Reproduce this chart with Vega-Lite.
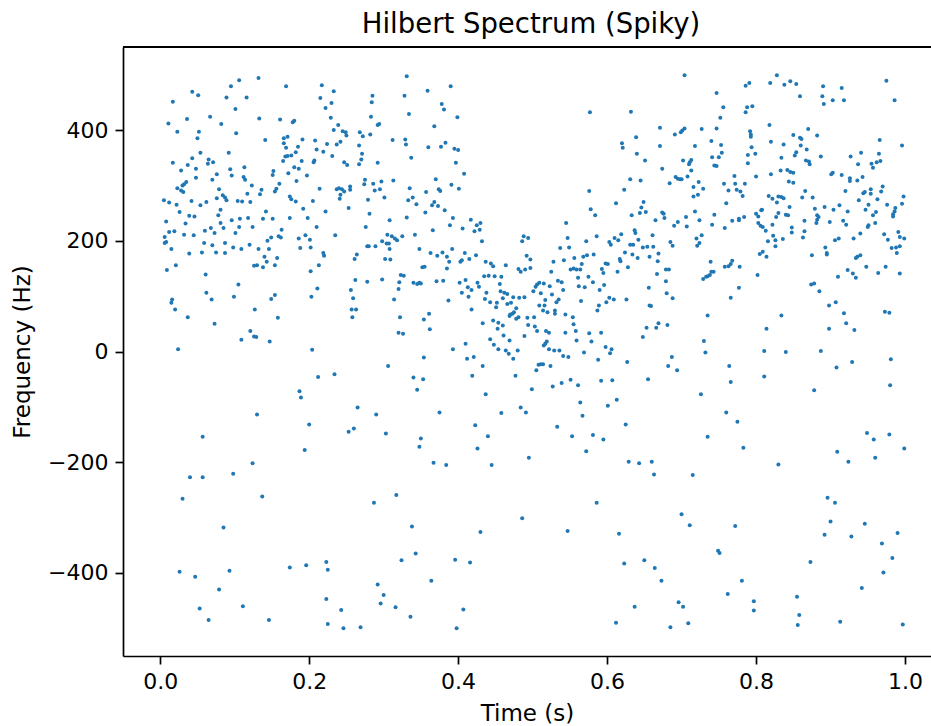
{
"$schema":"https://vega.github.io/schema/vega-lite/v6.json",
"width":808,"height":609,
"autosize":{"type":"none"},
"padding":{"left":123,"top":47,"right":0,"bottom":70},
"title":{"text":"Hilbert Spectrum (Spiky)","fontSize":27.5,"font":"DejaVu Sans","fontWeight":"normal","color":"black","anchor":"middle","offset":8,"dx":4},
"config":{"view":{"stroke":"transparent","strokeWidth":0},"font":"DejaVu Sans",
"axis":{"grid":false,"domainColor":"black","domainWidth":1.7,"tickColor":"black","tickWidth":1.7,"tickSize":8,"labelFont":"DejaVu Sans","labelFontSize":22,"labelColor":"black","titleFont":"DejaVu Sans","titleFontSize":23,"titleFontWeight":"normal","titleColor":"black","labelPadding":7}},
"data":{"values":[
{"t":0.132,"f":494},{"t":0.106,"f":490},{"t":0.095,"f":479},{"t":0.169,"f":479},{"t":0.217,"f":481},{"t":0.043,"f":469},{"t":0.051,"f":463},{"t":0.089,"f":459},{"t":0.116,"f":459},{"t":0.215,"f":458},{"t":0.017,"f":451},{"t":0.101,"f":438},{"t":0.222,"f":440},{"t":0.067,"f":424},{"t":0.036,"f":420},{"t":0.133,"f":421},{"t":0.161,"f":419},{"t":0.178,"f":414},{"t":0.180,"f":417},{"t":0.011,"f":412},{"t":0.082,"f":411},{"t":0.023,"f":397},{"t":0.052,"f":397},{"t":0.102,"f":394},{"t":0.050,"f":385},{"t":0.141,"f":382},{"t":0.171,"f":388},{"t":0.166,"f":385},{"t":0.191,"f":383},{"t":0.208,"f":381},{"t":0.166,"f":376},{"t":0.224,"f":375},{"t":0.169,"f":368},{"t":0.185,"f":370},{"t":0.219,"f":361},{"t":0.210,"f":365},{"t":0.092,"f":359},{"t":0.054,"f":359},{"t":0.176,"f":354},{"t":0.171,"f":353},{"t":0.168,"f":352},{"t":0.182,"f":360},{"t":0.043,"f":349},{"t":0.065,"f":347},{"t":0.017,"f":341},{"t":0.037,"f":337},{"t":0.071,"f":342},{"t":0.064,"f":339},{"t":0.165,"f":344},{"t":0.190,"f":344},{"t":0.207,"f":345},{"t":0.206,"f":342},{"t":0.048,"f":330},{"t":0.028,"f":327},{"t":0.094,"f":329},{"t":0.113,"f":333},{"t":0.180,"f":333},{"t":0.186,"f":330},{"t":0.152,"f":326},{"t":0.076,"f":320},{"t":0.151,"f":319},{"t":0.172,"f":322},{"t":0.197,"f":318},{"t":0.096,"f":318},{"t":0.048,"f":314},{"t":0.112,"f":315},{"t":0.114,"f":310},{"t":0.035,"f":306},{"t":0.032,"f":302},{"t":0.030,"f":300},{"t":0.070,"f":310},{"t":0.183,"f":308},{"t":0.123,"f":300},{"t":0.160,"f":303},{"t":0.023,"f":295},{"t":0.028,"f":291},{"t":0.031,"f":288},{"t":0.079,"f":293},{"t":0.136,"f":292},{"t":0.156,"f":294},{"t":0.154,"f":289},{"t":0.214,"f":294},{"t":0.117,"f":285},{"t":0.134,"f":284},{"t":0.084,"f":282},{"t":0.087,"f":278},{"t":0.174,"f":280},{"t":0.005,"f":273},{"t":0.012,"f":269},{"t":0.042,"f":272},{"t":0.076,"f":277},{"t":0.089,"f":273},{"t":0.104,"f":272},{"t":0.110,"f":271},{"t":0.121,"f":270},{"t":0.176,"f":275},{"t":0.182,"f":271},{"t":0.205,"f":272},{"t":0.022,"f":265},{"t":0.062,"f":270},{"t":0.054,"f":264},{"t":0.081,"f":256},{"t":0.142,"f":253},{"t":0.192,"f":258},{"t":0.222,"f":253},{"t":0.026,"f":252},{"t":0.039,"f":245},{"t":0.046,"f":244},{"t":0.078,"f":246},{"t":0.096,"f":237},{"t":0.107,"f":240},{"t":0.118,"f":241},{"t":0.138,"f":240},{"t":0.151,"f":240},{"t":0.174,"f":241},{"t":0.198,"f":241},{"t":0.008,"f":235},{"t":0.034,"f":231},{"t":0.081,"f":232},{"t":0.106,"f":225},{"t":0.124,"f":225},{"t":0.163,"f":220},{"t":0.210,"f":225},{"t":0.085,"f":223},{"t":0.012,"f":216},{"t":0.019,"f":217},{"t":0.060,"f":218},{"t":0.068,"f":223},{"t":0.073,"f":214},{"t":0.032,"f":211},{"t":0.045,"f":210},{"t":0.101,"f":214},{"t":0.006,"f":207},{"t":0.149,"f":206},{"t":0.159,"f":208},{"t":0.162,"f":206},{"t":0.195,"f":210},{"t":0.008,"f":198},{"t":0.006,"f":196},{"t":0.144,"f":200},{"t":0.186,"f":204},{"t":0.201,"f":202},{"t":0.059,"f":196},{"t":0.070,"f":192},{"t":0.087,"f":196},{"t":0.120,"f":193},{"t":0.098,"f":188},{"t":0.109,"f":185},{"t":0.132,"f":185},{"t":0.146,"f":185},{"t":0.188,"f":187},{"t":0.202,"f":188},{"t":0.015,"f":185},
{"t":0.039,"f":177},{"t":0.056,"f":179},{"t":0.075,"f":179},{"t":0.087,"f":178},{"t":0.219,"f":178},{"t":0.220,"f":173},{"t":0.021,"f":156},{"t":0.009,"f":147},{"t":0.061,"f":139},{"t":0.140,"f":171},{"t":0.157,"f":169},{"t":0.143,"f":162},{"t":0.126,"f":155},{"t":0.130,"f":156},{"t":0.138,"f":152},{"t":0.154,"f":156},{"t":0.213,"f":156},{"t":0.202,"f":145},{"t":0.105,"f":121},{"t":0.211,"f":114},{"t":0.062,"f":106},{"t":0.069,"f":94},{"t":0.099,"f":99},{"t":0.149,"f":95},{"t":0.154,"f":102},{"t":0.203,"f":99},{"t":0.016,"f":94},{"t":0.015,"f":88},{"t":0.020,"f":76},{"t":0.127,"f":76},{"t":0.037,"f":62},{"t":0.158,"f":61},{"t":0.073,"f":50},{"t":0.121,"f":37},{"t":0.109,"f":21},{"t":0.126,"f":27},{"t":0.129,"f":26},{"t":0.147,"f":18},{"t":0.024,"f":4},{"t":0.204,"f":3},{"t":0.212,"f":-46},{"t":0.187,"f":-72},{"t":0.189,"f":-83},{"t":0.130,"f":-114},{"t":0.200,"f":-132},{"t":0.057,"f":-154},{"t":0.194,"f":-178},
{"t":0.124,"f":-202},{"t":0.040,"f":-227},{"t":0.057,"f":-227},{"t":0.098,"f":-221},{"t":0.030,"f":-266},{"t":0.137,"f":-262},{"t":0.085,"f":-318},{"t":0.026,"f":-398},{"t":0.047,"f":-407},{"t":0.093,"f":-396},{"t":0.174,"f":-390},{"t":0.196,"f":-386},{"t":0.223,"f":-380},{"t":0.225,"f":-394},{"t":0.079,"f":-430},{"t":0.223,"f":-447},{"t":0.053,"f":-464},{"t":0.111,"f":-460},{"t":0.065,"f":-485},{"t":0.146,"f":-485},{"t":0.225,"f":-492},
{"t":0.331,"f":497},{"t":0.233,"f":470},{"t":0.359,"f":471},{"t":0.390,"f":479},{"t":0.285,"f":462},{"t":0.230,"f":449},{"t":0.328,"f":462},{"t":0.284,"f":450},{"t":0.378,"f":447},{"t":0.381,"f":437},{"t":0.334,"f":429},{"t":0.229,"f":422},{"t":0.283,"f":424},{"t":0.399,"f":423},{"t":0.368,"f":407},{"t":0.294,"f":411},{"t":0.292,"f":409},{"t":0.239,"f":409},{"t":0.233,"f":400},{"t":0.245,"f":398},{"t":0.249,"f":396},{"t":0.250,"f":390},{"t":0.268,"f":396},{"t":0.272,"f":389},{"t":0.282,"f":392},{"t":0.312,"f":382},{"t":0.329,"f":383},{"t":0.330,"f":374},{"t":0.242,"f":379},{"t":0.237,"f":374},{"t":0.267,"f":372},{"t":0.360,"f":369},{"t":0.377,"f":370},{"t":0.383,"f":377},{"t":0.395,"f":366},{"t":0.400,"f":364},{"t":0.231,"f":353},{"t":0.271,"f":357},{"t":0.270,"f":347},{"t":0.337,"f":350},{"t":0.247,"f":342},{"t":0.251,"f":337},{"t":0.267,"f":338},{"t":0.292,"f":341},{"t":0.397,"f":341},{"t":0.408,"f":321},{"t":0.275,"f":310},{"t":0.274,"f":302},{"t":0.286,"f":303},{"t":0.297,"f":307},{"t":0.313,"f":309},{"t":0.370,"f":311},{"t":0.237,"f":293},{"t":0.240,"f":295},{"t":0.244,"f":293},{"t":0.247,"f":289},{"t":0.255,"f":298},{"t":0.255,"f":292},{"t":0.242,"f":283},{"t":0.241,"f":276},{"t":0.288,"f":291},{"t":0.295,"f":293},{"t":0.335,"f":295},{"t":0.357,"f":288},{"t":0.374,"f":293},{"t":0.376,"f":290},{"t":0.391,"f":301},{"t":0.401,"f":294},{"t":0.279,"f":274},{"t":0.301,"f":278},{"t":0.333,"f":273},{"t":0.339,"f":278},{"t":0.344,"f":266},{"t":0.365,"f":264},{"t":0.368,"f":270},{"t":0.373,"f":263},{"t":0.253,"f":259},{"t":0.382,"f":255},{"t":0.281,"f":249},{"t":0.356,"f":251},{"t":0.331,"f":242},{"t":0.308,"f":237},{"t":0.393,"f":241},{"t":0.417,"f":238},{"t":0.430,"f":232},{"t":0.425,"f":228},{"t":0.389,"f":228},{"t":0.276,"f":225},{"t":0.406,"f":222},{"t":0.422,"f":217},{"t":0.429,"f":220},{"t":0.366,"f":219},{"t":0.342,"f":211},{"t":0.235,"f":210},{"t":0.325,"f":208},{"t":0.305,"f":211},{"t":0.311,"f":208},{"t":0.315,"f":204},{"t":0.318,"f":201},{"t":0.298,"f":199},{"t":0.304,"f":195},{"t":0.307,"f":195},{"t":0.432,"f":199},{"t":0.486,"f":199},{"t":0.488,"f":208},{"t":0.494,"f":205},{"t":0.278,"f":190},{"t":0.280,"f":190},{"t":0.289,"f":190},{"t":0.348,"f":185},{"t":0.392,"f":185},{"t":0.308,"f":185},
{"t":0.264,"f":175},{"t":0.261,"f":167},{"t":0.302,"f":167},{"t":0.309,"f":166},{"t":0.363,"f":178},{"t":0.372,"f":173},{"t":0.379,"f":179},{"t":0.385,"f":171},{"t":0.388,"f":162},{"t":0.409,"f":178},{"t":0.424,"f":174},{"t":0.403,"f":162},{"t":0.405,"f":165},{"t":0.415,"f":167},{"t":0.437,"f":162},{"t":0.444,"f":159},{"t":0.447,"f":154},{"t":0.464,"f":156},{"t":0.492,"f":173},{"t":0.481,"f":149},{"t":0.484,"f":144},{"t":0.490,"f":148},{"t":0.497,"f":151},{"t":0.355,"f":153},{"t":0.352,"f":152},{"t":0.385,"f":150},{"t":0.262,"f":129},{"t":0.278,"f":126},{"t":0.298,"f":130},{"t":0.323,"f":138},{"t":0.327,"f":137},{"t":0.321,"f":125},{"t":0.340,"f":124},{"t":0.345,"f":122},{"t":0.348,"f":124},{"t":0.350,"f":123},{"t":0.371,"f":127},{"t":0.380,"f":128},{"t":0.402,"f":124},{"t":0.410,"f":129},{"t":0.435,"f":136},{"t":0.441,"f":137},{"t":0.449,"f":136},{"t":0.458,"f":135},{"t":0.426,"f":124},{"t":0.428,"f":117},{"t":0.413,"f":116},{"t":0.418,"f":111},{"t":0.456,"f":122},{"t":0.256,"f":111},{"t":0.320,"f":113},{"t":0.438,"f":106},{"t":0.457,"f":109},{"t":0.462,"f":106},{"t":0.466,"f":104},{"t":0.405,"f":106},{"t":0.414,"f":99},{"t":0.259,"f":96},{"t":0.314,"f":94},{"t":0.387,"f":92},{"t":0.436,"f":95},{"t":0.443,"f":89},{"t":0.452,"f":88},{"t":0.460,"f":96},{"t":0.474,"f":98},{"t":0.482,"f":97},{"t":0.489,"f":98},{"t":0.466,"f":86},{"t":0.471,"f":88},{"t":0.257,"f":76},{"t":0.263,"f":76},{"t":0.258,"f":62},{"t":0.418,"f":76},{"t":0.451,"f":80},{"t":0.478,"f":78},{"t":0.475,"f":71},{"t":0.470,"f":67},{"t":0.473,"f":68},{"t":0.469,"f":64},{"t":0.481,"f":62},{"t":0.478,"f":59},{"t":0.493,"f":61},{"t":0.322,"f":62},{"t":0.354,"f":58},{"t":0.361,"f":68},{"t":0.433,"f":51},{"t":0.447,"f":56},{"t":0.454,"f":52},{"t":0.460,"f":47},{"t":0.453,"f":41},{"t":0.494,"f":48},{"t":0.362,"f":40},{"t":0.320,"f":34},{"t":0.326,"f":32},{"t":0.461,"f":29},{"t":0.489,"f":28},{"t":0.443,"f":22},{"t":0.469,"f":20},{"t":0.448,"f":12},{"t":0.410,"f":14},{"t":0.454,"f":4},{"t":0.464,"f":2},{"t":0.468,"f":-4},{"t":0.480,"f":2},{"t":0.393,"f":4},{"t":0.354,"f":-11},{"t":0.412,"f":-13},{"t":0.421,"f":-10},{"t":0.474,"f":-13},{"t":0.306,"f":-26},{"t":0.433,"f":-26},{"t":0.234,"f":-41},{"t":0.340,"f":-47},{"t":0.353,"f":-50},{"t":0.419,"f":-44},{"t":0.477,"f":-44},{"t":0.345,"f":-69},{"t":0.437,"f":-77},{"t":0.265,"f":-101},{"t":0.290,"f":-114},{"t":0.375,"f":-110},{"t":0.458,"f":-111},{"t":0.484,"f":-101},{"t":0.491,"f":-110},{"t":0.423,"f":-133},{"t":0.253,"f":-145},{"t":0.260,"f":-139},{"t":0.303,"f":-148},{"t":0.440,"f":-153},{"t":0.350,"f":-157},{"t":0.348,"f":-172},{"t":0.426,"f":-175},
{"t":0.367,"f":-201},{"t":0.384,"f":-205},{"t":0.445,"f":-205},{"t":0.495,"f":-192},{"t":0.317,"f":-259},{"t":0.287,"f":-273},{"t":0.338,"f":-316},{"t":0.486,"f":-301},{"t":0.430,"f":-326},{"t":0.343,"f":-365},{"t":0.324,"f":-377},{"t":0.396,"f":-376},{"t":0.416,"f":-381},{"t":0.364,"f":-414},{"t":0.292,"f":-421},{"t":0.300,"f":-440},{"t":0.296,"f":-455},{"t":0.316,"f":-462},{"t":0.243,"f":-467},{"t":0.407,"f":-466},{"t":0.336,"f":-479},{"t":0.246,"f":-500},{"t":0.269,"f":-498},{"t":0.398,"f":-500},
{"t":0.704,"f":499},{"t":0.747,"f":467},{"t":0.577,"f":432},{"t":0.632,"f":433},{"t":0.756,"f":441},{"t":0.752,"f":422},{"t":0.671,"f":404},{"t":0.691,"f":392},{"t":0.699,"f":396},{"t":0.701,"f":399},{"t":0.704,"f":403},{"t":0.727,"f":402},{"t":0.747,"f":403},{"t":0.639,"f":387},{"t":0.620,"f":376},{"t":0.621,"f":368},{"t":0.671,"f":371},{"t":0.718,"f":371},{"t":0.740,"f":380},{"t":0.753,"f":373},{"t":0.754,"f":359},{"t":0.640,"f":357},{"t":0.741,"f":351},{"t":0.750,"f":351},{"t":0.651,"f":345},{"t":0.702,"f":345},{"t":0.713,"f":346},{"t":0.711,"f":342},{"t":0.710,"f":338},{"t":0.744,"f":336},{"t":0.747,"f":335},{"t":0.674,"f":330},{"t":0.713,"f":327},{"t":0.692,"f":315},{"t":0.695,"f":312},{"t":0.698,"f":311},{"t":0.700,"f":311},{"t":0.708,"f":316},{"t":0.684,"f":304},{"t":0.631,"f":311},{"t":0.645,"f":309},{"t":0.723,"f":306},{"t":0.757,"f":303},{"t":0.716,"f":297},{"t":0.729,"f":294},{"t":0.576,"f":290},{"t":0.623,"f":292},{"t":0.763,"f":291},{"t":0.722,"f":283},{"t":0.716,"f":280},{"t":0.612,"f":268},{"t":0.649,"f":270},{"t":0.578,"f":257},{"t":0.646,"f":260},{"t":0.644,"f":250},{"t":0.652,"f":252},{"t":0.584,"f":246},{"t":0.633,"f":246},{"t":0.674,"f":251},{"t":0.676,"f":249},{"t":0.677,"f":241},{"t":0.718,"f":253},{"t":0.706,"f":243},{"t":0.665,"f":237},{"t":0.695,"f":234},{"t":0.724,"f":237},{"t":0.744,"f":247},{"t":0.760,"f":268},{"t":0.768,"f":236},{"t":0.545,"f":232},{"t":0.690,"f":227},{"t":0.707,"f":226},{"t":0.741,"f":229},{"t":0.758,"f":223},{"t":0.637,"f":219},{"t":0.638,"f":214},{"t":0.661,"f":210},{"t":0.619,"f":212},{"t":0.610,"f":205},{"t":0.615,"f":201},{"t":0.603,"f":198},{"t":0.605,"f":193},{"t":0.631,"f":193},{"t":0.635,"f":193},{"t":0.642,"f":202},{"t":0.586,"f":208},{"t":0.572,"f":199},{"t":0.547,"f":205},{"t":0.537,"f":187},{"t":0.549,"f":188},{"t":0.648,"f":188},{"t":0.654,"f":189},{"t":0.662,"f":189},{"t":0.685,"f":198},{"t":0.688,"f":191},{"t":0.720,"f":204},{"t":0.727,"f":210},{"t":0.724,"f":196},{"t":0.721,"f":191},
{"t":0.497,"f":166},{"t":0.528,"f":162},{"t":0.542,"f":165},{"t":0.556,"f":169},{"t":0.568,"f":171},{"t":0.573,"f":174},{"t":0.582,"f":175},{"t":0.566,"f":158},{"t":0.551,"f":148},{"t":0.555,"f":150},{"t":0.559,"f":148},{"t":0.564,"f":148},{"t":0.525,"f":144},{"t":0.593,"f":149},{"t":0.595,"f":142},{"t":0.598,"f":159},{"t":0.601,"f":158},{"t":0.617,"f":167},{"t":0.618,"f":163},{"t":0.624,"f":179},{"t":0.634,"f":175},{"t":0.641,"f":169},{"t":0.657,"f":171},{"t":0.669,"f":177},{"t":0.668,"f":163},{"t":0.628,"f":152},{"t":0.614,"f":144},{"t":0.667,"f":140},{"t":0.679,"f":148},{"t":0.683,"f":148},{"t":0.561,"f":133},{"t":0.575,"f":135},{"t":0.581,"f":125},{"t":0.534,"f":128},{"t":0.539,"f":125},{"t":0.506,"f":121},{"t":0.509,"f":124},{"t":0.515,"f":123},{"t":0.504,"f":117},{"t":0.523,"f":118},{"t":0.562,"f":118},{"t":0.570,"f":116},{"t":0.596,"f":120},{"t":0.501,"f":109},{"t":0.511,"f":105},{"t":0.526,"f":103},{"t":0.541,"f":111},{"t":0.590,"f":111},{"t":0.656,"f":115},{"t":0.679,"f":127},{"t":0.680,"f":105},{"t":0.688,"f":96},{"t":0.517,"f":93},{"t":0.535,"f":94},{"t":0.532,"f":89},{"t":0.565,"f":91},{"t":0.599,"f":89},{"t":0.603,"f":97},{"t":0.609,"f":94},{"t":0.626,"f":94},{"t":0.509,"f":83},{"t":0.516,"f":83},{"t":0.530,"f":74},{"t":0.514,"f":74},{"t":0.520,"f":71},{"t":0.530,"f":68},{"t":0.544,"f":67},{"t":0.589,"f":83},{"t":0.587,"f":74},{"t":0.657,"f":83},{"t":0.659,"f":82},{"t":0.502,"f":62},{"t":0.554,"f":62},{"t":0.555,"f":49},{"t":0.503,"f":45},{"t":0.506,"f":37},{"t":0.518,"f":37},{"t":0.522,"f":34},{"t":0.544,"f":34},{"t":0.558,"f":37},{"t":0.576,"f":33},{"t":0.592,"f":34},{"t":0.653,"f":43},{"t":0.666,"f":43},{"t":0.669,"f":51},{"t":0.681,"f":48},{"t":0.648,"f":26},{"t":0.559,"f":20},{"t":0.579,"f":18},{"t":0.519,"f":18},{"t":0.517,"f":14},{"t":0.515,"f":11},{"t":0.522,"f":4},{"t":0.529,"f":2},{"t":0.536,"f":2},{"t":0.569,"f":-2},{"t":0.541,"f":-8},{"t":0.548,"f":-10},{"t":0.598,"f":8},{"t":0.606,"f":4},{"t":0.604,"f":-3},{"t":0.588,"f":-15},{"t":0.627,"f":-19},{"t":0.687,"f":-10},{"t":0.682,"f":-26},{"t":0.694,"f":-34},{"t":0.508,"f":-24},{"t":0.511,"f":-23},{"t":0.514,"f":-23},{"t":0.505,"f":-34},{"t":0.524,"f":-26},{"t":0.551,"f":-51},{"t":0.539,"f":-57},{"t":0.527,"f":-63},{"t":0.561,"f":-61},{"t":0.592,"f":-53},{"t":0.607,"f":-52},{"t":0.655,"f":-50},{"t":0.499,"f":-68},{"t":0.564,"f":-92},{"t":0.601,"f":-98},{"t":0.613,"f":-87},{"t":0.567,"f":-116},{"t":0.625,"f":-132},{"t":0.533,"f":-136},{"t":0.553,"f":-153},{"t":0.581,"f":-151},{"t":0.595,"f":-159},{"t":0.572,"f":-180},{"t":0.739,"f":162},{"t":0.758,"f":153},{"t":0.763,"f":154},{"t":0.766,"f":158},{"t":0.768,"f":164},{"t":0.729,"f":131},{"t":0.733,"f":135},{"t":0.735,"f":136},{"t":0.738,"f":138},{"t":0.740,"f":144},{"t":0.743,"f":144},{"t":0.735,"f":65},{"t":0.766,"f":97},{"t":0.730,"f":19},{"t":0.732,"f":-2},{"t":0.764,"f":-26},{"t":0.766,"f":-55},{"t":0.726,"f":-77},{"t":0.760,"f":-110},{"t":0.735,"f":-154},
{"t":0.629,"f":-199},{"t":0.643,"f":-202},{"t":0.660,"f":-199},{"t":0.663,"f":-222},{"t":0.715,"f":-223},{"t":0.586,"f":-273},{"t":0.700,"f":-294},{"t":0.711,"f":-314},{"t":0.547,"f":-324},{"t":0.616,"f":-329},{"t":0.749,"f":-360},{"t":0.751,"f":-364},{"t":0.623,"f":-383},{"t":0.650,"f":-377},{"t":0.664,"f":-391},{"t":0.673,"f":-414},{"t":0.762,"f":-438},{"t":0.637,"f":-461},{"t":0.696,"f":-453},{"t":0.702,"f":-461},{"t":0.612,"f":-490},{"t":0.685,"f":-498},{"t":0.709,"f":-491},
{"t":0.828,"f":499},{"t":0.786,"f":480},{"t":0.791,"f":485},{"t":0.819,"f":485},{"t":0.838,"f":482},{"t":0.846,"f":488},{"t":0.854,"f":483},{"t":0.859,"f":461},{"t":0.890,"f":479},{"t":0.915,"f":476},{"t":0.889,"f":461},{"t":0.903,"f":454},{"t":0.918,"f":454},{"t":0.891,"f":447},{"t":0.975,"f":489},{"t":0.986,"f":454},{"t":0.788,"f":441},{"t":0.795,"f":443},{"t":0.786,"f":432},{"t":0.818,"f":409},{"t":0.870,"f":402},{"t":0.882,"f":390},{"t":0.850,"f":391},{"t":0.792,"f":398},{"t":0.793,"f":392},{"t":0.793,"f":388},{"t":0.820,"f":379},{"t":0.837,"f":374},{"t":0.859,"f":386},{"t":0.861,"f":384},{"t":0.860,"f":372},{"t":0.868,"f":365},{"t":0.854,"f":360},{"t":0.852,"f":354},{"t":0.794,"f":369},{"t":0.789,"f":355},{"t":0.799,"f":357},{"t":0.789,"f":340},{"t":0.887,"f":352},{"t":0.834,"f":350},{"t":0.867,"f":345},{"t":0.871,"f":343},{"t":0.872,"f":338},{"t":0.966,"f":382},{"t":0.996,"f":372},{"t":0.927,"f":352},{"t":0.941,"f":359},{"t":0.965,"f":357},{"t":0.937,"f":338},{"t":0.955,"f":339},{"t":0.962,"f":342},{"t":0.967,"f":344},{"t":0.957,"f":332},{"t":0.833,"f":327},{"t":0.842,"f":328},{"t":0.846,"f":324},{"t":0.850,"f":323},{"t":0.820,"f":320},{"t":0.800,"f":316},{"t":0.901,"f":320},{"t":0.903,"f":323},{"t":0.915,"f":319},{"t":0.926,"f":313},{"t":0.926,"f":308},{"t":0.936,"f":309},{"t":0.943,"f":315},{"t":0.844,"f":307},{"t":0.850,"f":305},{"t":0.771,"f":317},{"t":0.772,"f":303},{"t":0.785,"f":303},{"t":0.774,"f":292},{"t":0.779,"f":289},{"t":0.782,"f":281},{"t":0.866,"f":290},{"t":0.920,"f":290},{"t":0.944,"f":286},{"t":0.946,"f":288},{"t":0.954,"f":293},{"t":0.954,"f":285},{"t":0.968,"f":289},{"t":0.970,"f":298},{"t":0.998,"f":280},{"t":0.817,"f":281},{"t":0.822,"f":276},{"t":0.830,"f":280},{"t":0.834,"f":279},{"t":0.837,"f":277},{"t":0.828,"f":269},{"t":0.862,"f":278},{"t":0.876,"f":278},{"t":0.938,"f":273},{"t":0.963,"f":275},{"t":0.845,"f":261},{"t":0.879,"f":258},{"t":0.892,"f":261},{"t":0.904,"f":256},{"t":0.912,"f":264},{"t":0.923,"f":253},{"t":0.947,"f":256},{"t":0.951,"f":265},{"t":0.961,"f":252},{"t":0.976,"f":265},{"t":0.987,"f":259},{"t":0.986,"f":253},{"t":0.996,"f":267},{"t":0.800,"f":249},{"t":0.807,"f":255},{"t":0.808,"f":256},{"t":0.803,"f":244},{"t":0.827,"f":243},{"t":0.830,"f":250},{"t":0.840,"f":247},{"t":0.843,"f":246},{"t":0.784,"f":243},{"t":0.777,"f":240},{"t":0.777,"f":237},{"t":0.882,"f":246},{"t":0.884,"f":243},{"t":0.882,"f":238},{"t":0.881,"f":232},{"t":0.865,"f":236},{"t":0.899,"f":234},{"t":0.917,"f":236},{"t":0.921,"f":229},{"t":0.957,"f":246},{"t":0.960,"f":232},{"t":0.984,"f":244},{"t":0.984,"f":248},{"t":0.822,"f":229},{"t":0.803,"f":232},{"t":0.806,"f":227},{"t":0.809,"f":225},{"t":0.813,"f":218},{"t":0.848,"f":224},{"t":0.848,"f":215},{"t":0.865,"f":217},{"t":0.863,"f":206},{"t":0.836,"f":203},{"t":0.823,"f":209},{"t":0.826,"f":201},{"t":0.826,"f":190},{"t":0.816,"f":199},{"t":0.893,"f":188},{"t":0.906,"f":201},{"t":0.911,"f":204},{"t":0.931,"f":204},{"t":0.940,"f":213},{"t":0.950,"f":225},{"t":0.951,"f":228},{"t":0.972,"f":212},{"t":0.977,"f":202},{"t":0.991,"f":216},{"t":0.993,"f":207},{"t":0.999,"f":204},{"t":0.982,"f":187},{"t":0.988,"f":188},{"t":0.993,"f":190},
{"t":0.805,"f":176},{"t":0.809,"f":180},{"t":0.814,"f":171},{"t":0.778,"f":153},{"t":0.802,"f":138},{"t":0.777,"f":115},{"t":0.875,"f":174},{"t":0.895,"f":178},{"t":0.895,"f":175},{"t":0.934,"f":169},{"t":0.936,"f":171},{"t":0.940,"f":174},{"t":0.989,"f":178},{"t":0.948,"f":153},{"t":0.974,"f":153},{"t":0.923,"f":147},{"t":0.930,"f":141},{"t":0.934,"f":133},{"t":0.910,"f":135},{"t":0.964,"f":142},{"t":0.993,"f":141},{"t":0.874,"f":121},{"t":0.878,"f":123},{"t":0.885,"f":109},{"t":0.898,"f":83},{"t":0.907,"f":89},{"t":0.918,"f":69},{"t":0.921,"f":51},{"t":0.932,"f":39},{"t":0.898,"f":41},{"t":0.973,"f":72},{"t":0.979,"f":70},{"t":0.834,"f":65},{"t":0.814,"f":41},{"t":0.811,"f":1},{"t":0.840,"f":-1},{"t":0.887,"f":1},{"t":0.981,"f":-14},{"t":0.908,"f":-29},{"t":0.929,"f":-19},{"t":0.811,"f":-45},{"t":0.980,"f":-61},{"t":0.878,"f":-70},{"t":0.775,"f":-127},{"t":0.949,"f":-147},{"t":0.958,"f":-159},{"t":0.979,"f":-150},{"t":0.783,"f":-174},{"t":0.909,"f":-181},{"t":0.999,"f":-175},
{"t":0.830,"f":-204},{"t":0.924,"f":-199},{"t":0.960,"f":-192},{"t":0.896,"f":-264},{"t":0.906,"f":-273},{"t":0.772,"f":-315},{"t":0.900,"f":-307},{"t":0.946,"f":-311},{"t":0.892,"f":-331},{"t":0.928,"f":-334},{"t":0.990,"f":-328},{"t":0.969,"f":-347},{"t":0.983,"f":-373},{"t":0.873,"f":-380},{"t":0.971,"f":-399},{"t":0.781,"f":-414},{"t":0.942,"f":-427},{"t":0.797,"f":-451},{"t":0.855,"f":-443},{"t":0.797,"f":-468},{"t":0.858,"f":-476},{"t":0.856,"f":-494},{"t":0.913,"f":-488},{"t":0.997,"f":-493}
]},
"layer":[
{"mark":{"type":"circle","size":16,"opacity":1,"color":"#1f77b4"},
"encoding":{
"x":{"field":"t","type":"quantitative","scale":{"domain":[-0.04995,1.0349],"nice":false,"zero":false},"axis":{"values":[0,0.2,0.4,0.6,0.8,1.0],"format":".1f","title":"Time (s)","titlePadding":10}},
"y":{"field":"f","type":"quantitative","scale":{"domain":[-550,550],"nice":false,"zero":false},"axis":{"values":[-400,-200,0,200,400],"title":"Frequency (Hz)","titlePadding":13}}}},
{"mark":{"type":"rule","color":"black","strokeWidth":1.7},"encoding":{"y":{"datum":550}}}
]
}
